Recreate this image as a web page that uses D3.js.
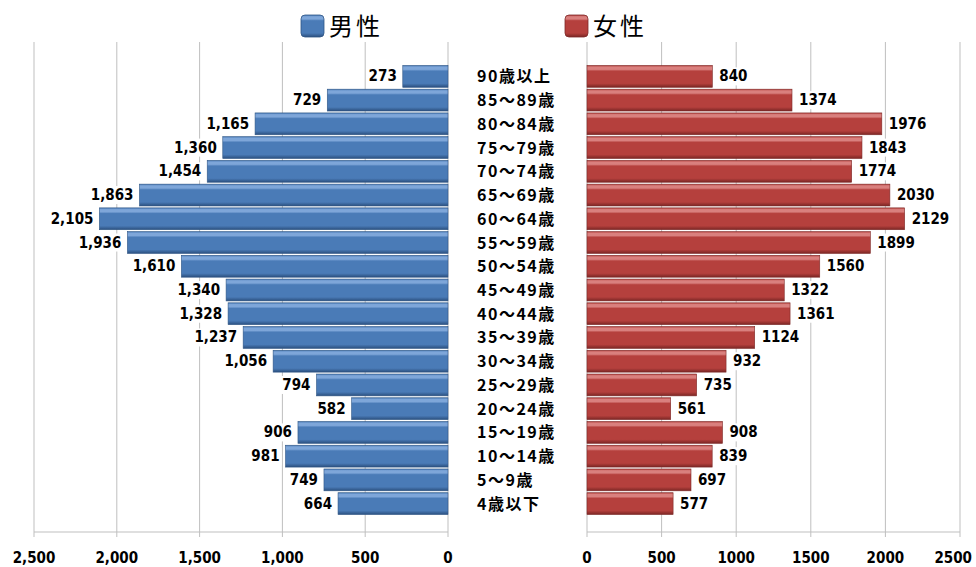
<!DOCTYPE html>
<html>
<head>
<meta charset="utf-8">
<script src="https://cdn.jsdelivr.net/npm/d3@7"></script>
<style>
body{margin:0;background:#fff;}
svg{display:block;}
</style>
</head>
<body>
<svg id="chart" width="976" height="567"></svg>
<script>
const categories = ["90歳以上","85～89歳","80～84歳","75～79歳","70～74歳","65～69歳","60～64歳","55～59歳","50～54歳","45～49歳","40～44歳","35～39歳","30～34歳","25～29歳","20～24歳","15～19歳","10～14歳","5～9歳","4歳以下"];
const maleValues = [273,729,1165,1360,1454,1863,2105,1936,1610,1340,1328,1237,1056,794,582,906,981,749,664];
const femaleValues = [840,1374,1976,1843,1774,2030,2129,1899,1560,1322,1361,1124,932,735,561,908,839,697,577];
const tickValues = [0,500,1000,1500,2000,2500];
const seriesNames = ["男性","女性"];

const svg = d3.select("#chart");
const defs = svg.append("defs");

function makeGrad(id, light, main, dark){
  const g = defs.append("linearGradient").attr("id", id).attr("x1",0).attr("y1",0).attr("x2",0).attr("y2",1);
  g.append("stop").attr("offset","0%").attr("stop-color", main);
  g.append("stop").attr("offset","8%").attr("stop-color", light);
  g.append("stop").attr("offset","18%").attr("stop-color", light);
  g.append("stop").attr("offset","26%").attr("stop-color", main);
  g.append("stop").attr("offset","82%").attr("stop-color", main);
  g.append("stop").attr("offset","100%").attr("stop-color", dark);
}
makeGrad("gBlue", "#7ea6d9", "#4a7bb7", "#2b4f7e");
makeGrad("gRed", "#d9807e", "#b5403d", "#7a2624");

const y = d3.scaleBand().domain(categories).range([64.5, 515.5]).paddingInner(0.08).paddingOuter(0.04);
const xL = d3.scaleLinear().domain([0, 2500]).range([448, 34]);
const xR = d3.scaleLinear().domain([0, 2500]).range([587, 960]);

const gridTop = 42, axisY = 532;
const gridColor = "#bfbfbf";

// grid lines
svg.append("g").selectAll("line").data(tickValues).join("line")
  .attr("x1", d => xL(d)).attr("x2", d => xL(d))
  .attr("y1", gridTop).attr("y2", axisY + 5)
  .attr("stroke", gridColor).attr("stroke-width", 1);
svg.append("g").selectAll("line").data(tickValues).join("line")
  .attr("x1", d => xR(d)).attr("x2", d => xR(d))
  .attr("y1", gridTop).attr("y2", axisY + 5)
  .attr("stroke", gridColor).attr("stroke-width", 1);
// axis lines
svg.append("line").attr("x1", xL(2500)).attr("x2", xL(0)).attr("y1", axisY).attr("y2", axisY).attr("stroke", gridColor);
svg.append("line").attr("x1", xR(0)).attr("x2", xR(2500)).attr("y1", axisY).attr("y2", axisY).attr("stroke", gridColor);

// tick labels
const condFont = "'DejaVu Sans Condensed', 'DejaVu Sans', sans-serif";
const fmtL = d3.format(",");
svg.append("g").selectAll("text").data(tickValues).join("text")
  .attr("x", d => xL(d)).attr("y", 563)
  .attr("text-anchor","middle")
  .attr("font-family", condFont).attr("font-weight","bold").attr("font-size", 15)
  .attr("fill","#000")
  .text(d => fmtL(d));
svg.append("g").selectAll("text").data(tickValues).join("text")
  .attr("x", d => xR(d)).attr("y", 563)
  .attr("text-anchor","middle")
  .attr("font-family", condFont).attr("font-weight","bold").attr("font-size", 15)
  .attr("fill","#000")
  .text(d => String(d))
  .each(function(){
    const b = this.getBBox();
    if (b.x + b.width > 972) {
      d3.select(this).attr("x", 972 - b.width/2);
    }
  });

// bars
const maleData = categories.map((c,i) => ({c, v: maleValues[i]}));
const femaleData = categories.map((c,i) => ({c, v: femaleValues[i]}));

svg.append("g").selectAll("rect").data(maleData).join("rect")
  .attr("x", d => xL(d.v)).attr("y", d => y(d.c))
  .attr("width", d => xL(0) - xL(d.v)).attr("height", y.bandwidth())
  .attr("fill", "url(#gBlue)")
  .attr("stroke", "#2f5685").attr("stroke-width", 0.6);
svg.append("g").selectAll("rect").data(femaleData).join("rect")
  .attr("x", xR(0)).attr("y", d => y(d.c))
  .attr("width", d => xR(d.v) - xR(0)).attr("height", y.bandwidth())
  .attr("fill", "url(#gRed)")
  .attr("stroke", "#7e2a28").attr("stroke-width", 0.6);

// value labels
const mg = svg.append("g").selectAll("g").data(maleData).join("g");
mg.append("text")
  .attr("x", d => xL(d.v) - 6).attr("y", d => y(d.c) + y.bandwidth()/2 + 5)
  .attr("text-anchor","end")
  .attr("font-family", condFont).attr("font-weight","bold").attr("font-size", 15)
  .attr("fill","#000")
  .text(d => fmtL(d.v));
mg.each(function(){
  const t = d3.select(this).select("text");
  const b = t.node().getBBox();
  d3.select(this).insert("rect","text").attr("x", b.x-2).attr("y", b.y).attr("width", b.width+4).attr("height", b.height).attr("fill","#fff");
});
const fg = svg.append("g").selectAll("g").data(femaleData).join("g");
fg.append("text")
  .attr("x", d => xR(d.v) + 7).attr("y", d => y(d.c) + y.bandwidth()/2 + 5)
  .attr("text-anchor","start")
  .attr("font-family", condFont).attr("font-weight","bold").attr("font-size", 15)
  .attr("fill","#000")
  .text(d => String(d.v));
fg.each(function(){
  const t = d3.select(this).select("text");
  const b = t.node().getBBox();
  d3.select(this).insert("rect","text").attr("x", b.x-2).attr("y", b.y).attr("width", b.width+4).attr("height", b.height).attr("fill","#fff");
});

// category labels
svg.append("g").selectAll("text").data(categories).join("text")
  .attr("x", 477).attr("y", d => y(d) + y.bandwidth()/2 + 6)
  .attr("font-family", "'Noto Sans CJK JP', sans-serif").attr("font-weight","bold").attr("font-size", 16)
  .attr("letter-spacing", "1.5px")
  .attr("fill","#000")
  .text(d => d);

// legend
const legend = [{name: seriesNames[0], grad: "url(#gBlue)", stroke:"#2f5685", x: 301},
                {name: seriesNames[1], grad: "url(#gRed)", stroke:"#7e2a28", x: 565}];
const lg = svg.append("g").selectAll("g").data(legend).join("g");
lg.append("rect").attr("x", d => d.x).attr("y", 15).attr("width", 23).attr("height", 22).attr("rx", 4)
  .attr("fill", d => d.grad).attr("stroke", d => d.stroke).attr("stroke-width", 0.8);
lg.append("text").attr("x", d => d.x + 28).attr("y", 35)
  .attr("font-family", "'Noto Sans CJK JP', sans-serif").attr("font-size", 24)
  .attr("letter-spacing", "3px")
  .attr("fill", "#000")
  .text(d => d.name);
</script>
</body>
</html>
